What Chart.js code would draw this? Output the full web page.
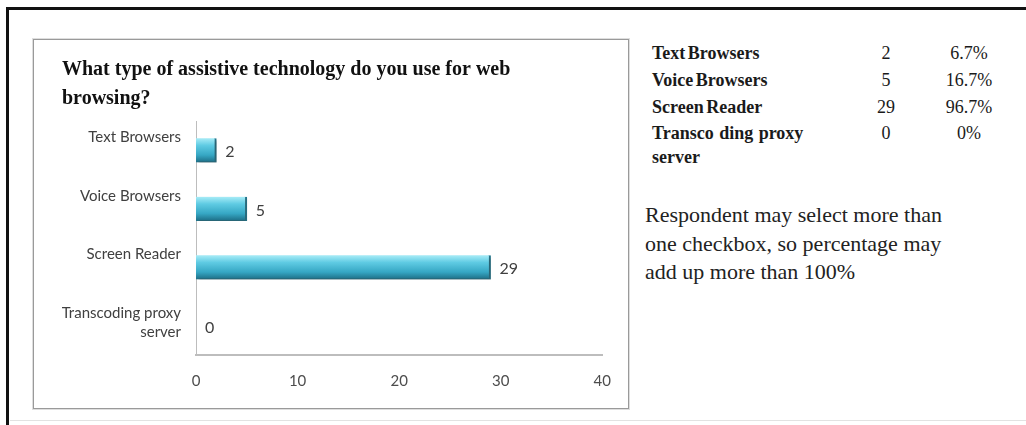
<!DOCTYPE html>
<html>
<head>
<meta charset="utf-8">
<script src="https://cdn.jsdelivr.net/npm/chart.js@4/dist/chart.umd.min.js"></script>
<style>
    html, body { margin: 0; padding: 0; background: #fff; }
    body { width: 1026px; height: 425px; position: relative; overflow: hidden; }
    #frame {
        position: absolute; left: 6px; top: 7px; width: 1040px; height: 440px;
        border-left: 3px solid #111; border-top: 3px solid #111;
    }
    #floor-line { position: absolute; left: 10px; top: 420px; width: 1016px; height: 1px; background: #e2e2e2; }
    #chart-box {
        position: absolute; left: 33px; top: 39px; width: 594px; height: 368px;
        border: 1px solid #9a9a9a; box-shadow: 0 0 0 1px #dedede; background: #fff;
    }
    #chart-box canvas { position: absolute; left: 0; top: 0; }
    #summary {
        position: absolute; left: 652px; top: 40px;
        border-collapse: collapse; font-family: "Liberation Serif", "Times New Roman", serif;
        font-size: 18px; color: #1a1a1a;
    }
    #summary td { padding: 0; height: 27px; line-height: 27px; vertical-align: top; }
    #summary td.name { width: 200px; font-weight: bold; word-spacing: -2px; }
    #summary td.count { width: 68px; text-align: center; }
    #summary td.share { width: 98px; text-align: center; }
    #summary tr.two-line td { line-height: 24px; height: 48px; }
    #summary tr.two-line td.name { word-spacing: 1px; }
    #note {
        position: absolute; left: 645px; top: 201px;
        font-family: "Liberation Serif", "Times New Roman", serif;
        font-size: 22px; line-height: 28.5px; color: #222;
    }
</style>
</head>
<body>
<div id="frame"></div>
<div id="floor-line"></div>
<div id="chart-box"><canvas id="tech-chart" width="594" height="368"></canvas></div>
<table id="summary"></table>
<div id="note">Respondent may select more than<br>one checkbox, so percentage may<br>add up more than 100%</div>

<script>
    const categories = ['Text Browsers', 'Voice Browsers', 'Screen Reader', ['Transcoding proxy', 'server']];
    const counts = [2, 5, 29, 0];
    const shares = ['6.7%', '16.7%', '96.7%', '0%'];
    const tableLabels = ['Text Browsers', 'Voice Browsers', 'Screen Reader', 'Transco ding proxy<br>server'];
    const xTicks = [0, 10, 20, 30, 40];
    const chartTitle = ['What type of assistive technology do you use for web', 'browsing?'];

    // summary table on the right
    const summary = document.getElementById('summary');
    tableLabels.forEach((label, i) => {
        const row = document.createElement('tr');
        if (label.includes('<br>')) row.className = 'two-line';
        row.innerHTML = `<td class="name">${label}</td><td class="count">${counts[i]}</td><td class="share">${shares[i]}</td>`;
        summary.appendChild(row);
    });

    // shaded teal fill, one gradient per bar so each looks like a rounded rod
    function barFill(context) {
        const chart = context.chart;
        if (!chart.chartArea || context.dataIndex === undefined) return '#3fb3cf';
        const yScale = chart.scales.y;
        const mid = yScale.getPixelForValue(context.dataIndex);
        const g = chart.ctx.createLinearGradient(0, mid - 12, 0, mid + 12);
        g.addColorStop(0, '#a8ecf7');
        g.addColorStop(0.3, '#5fcbe3');
        g.addColorStop(0.7, '#36a7c4');
        g.addColorStop(1, '#1d6e86');
        return g;
    }

    const barShadow = {
        id: 'barShadow',
        beforeDatasetsDraw(chart) {
            const ctx = chart.ctx;
            ctx.save();
            ctx.shadowColor = 'rgba(60, 60, 60, 0.45)';
            ctx.shadowBlur = 3;
            ctx.shadowOffsetX = 2;
            ctx.shadowOffsetY = 2;
        },
        afterDatasetsDraw(chart) {
            chart.ctx.restore();
        }
    };

    const valueLabels = {
        id: 'valueLabels',
        afterDatasetsDraw(chart) {
            const ctx = chart.ctx;
            const meta = chart.getDatasetMeta(0);
            ctx.save();
            ctx.font = '16px Lato, "Open Sans", sans-serif';
            ctx.fillStyle = '#404040';
            ctx.textAlign = 'left';
            ctx.textBaseline = 'middle';
            meta.data.forEach((bar, i) => {
                ctx.fillText(String(counts[i]), bar.x + 9, bar.y + 2);
            });
            ctx.restore();
        }
    };

    new Chart(document.getElementById('tech-chart'), {
        type: 'bar',
        data: {
            labels: categories,
            datasets: [{
                data: counts,
                backgroundColor: barFill,
                borderColor: '#1f7890',
                borderWidth: { top: 0, left: 0, bottom: 1, right: 2 },
                barThickness: 24,
                borderSkipped: false
            }]
        },
        options: {
            indexAxis: 'y',
            responsive: false,
            animation: false,
            layout: { padding: { left: 28, right: 20, top: 0, bottom: 0 } },
            plugins: {
                legend: { display: false },
                tooltip: { enabled: false },
                title: {
                    display: true,
                    text: chartTitle,
                    align: 'start',
                    color: '#111',
                    font: { family: '"Liberation Serif", "Times New Roman", serif', size: 20, weight: 'bold', lineHeight: 1.45 },
                    padding: { top: 15, bottom: 8 }
                }
            },
            scales: {
                x: {
                    min: xTicks[0],
                    max: xTicks[xTicks.length - 1],
                    afterBuildTicks: scale => { scale.ticks = xTicks.map(v => ({ value: v })); },
                    afterFit: scale => { scale.height = 53; },
                    grid: { display: false, drawTicks: false },
                    border: { display: true, color: '#bdbdbd', width: 2 },
                    ticks: {
                        padding: 17,
                        color: '#4d4d4d',
                        font: { family: 'Lato, "Open Sans", sans-serif', size: 15 }
                    }
                },
                y: {
                    afterFit: scale => { scale.width = 134; },
                    grid: { display: false, drawTicks: false },
                    border: { display: true, color: '#bdbdbd', width: 1 },
                    ticks: {
                        autoSkip: false,
                        padding: 15,
                        labelOffset: -13,
                        color: '#404040',
                        font: { family: 'Lato, "Open Sans", sans-serif', size: 15, lineHeight: 1.3 },
                        callback: function (value) {
                            const label = this.getLabelForValue(value);
                            return Array.isArray(label) ? [''].concat(label) : label;
                        }
                    }
                }
            }
        },
        plugins: [barShadow, valueLabels]
    });
</script>
</body>
</html>
